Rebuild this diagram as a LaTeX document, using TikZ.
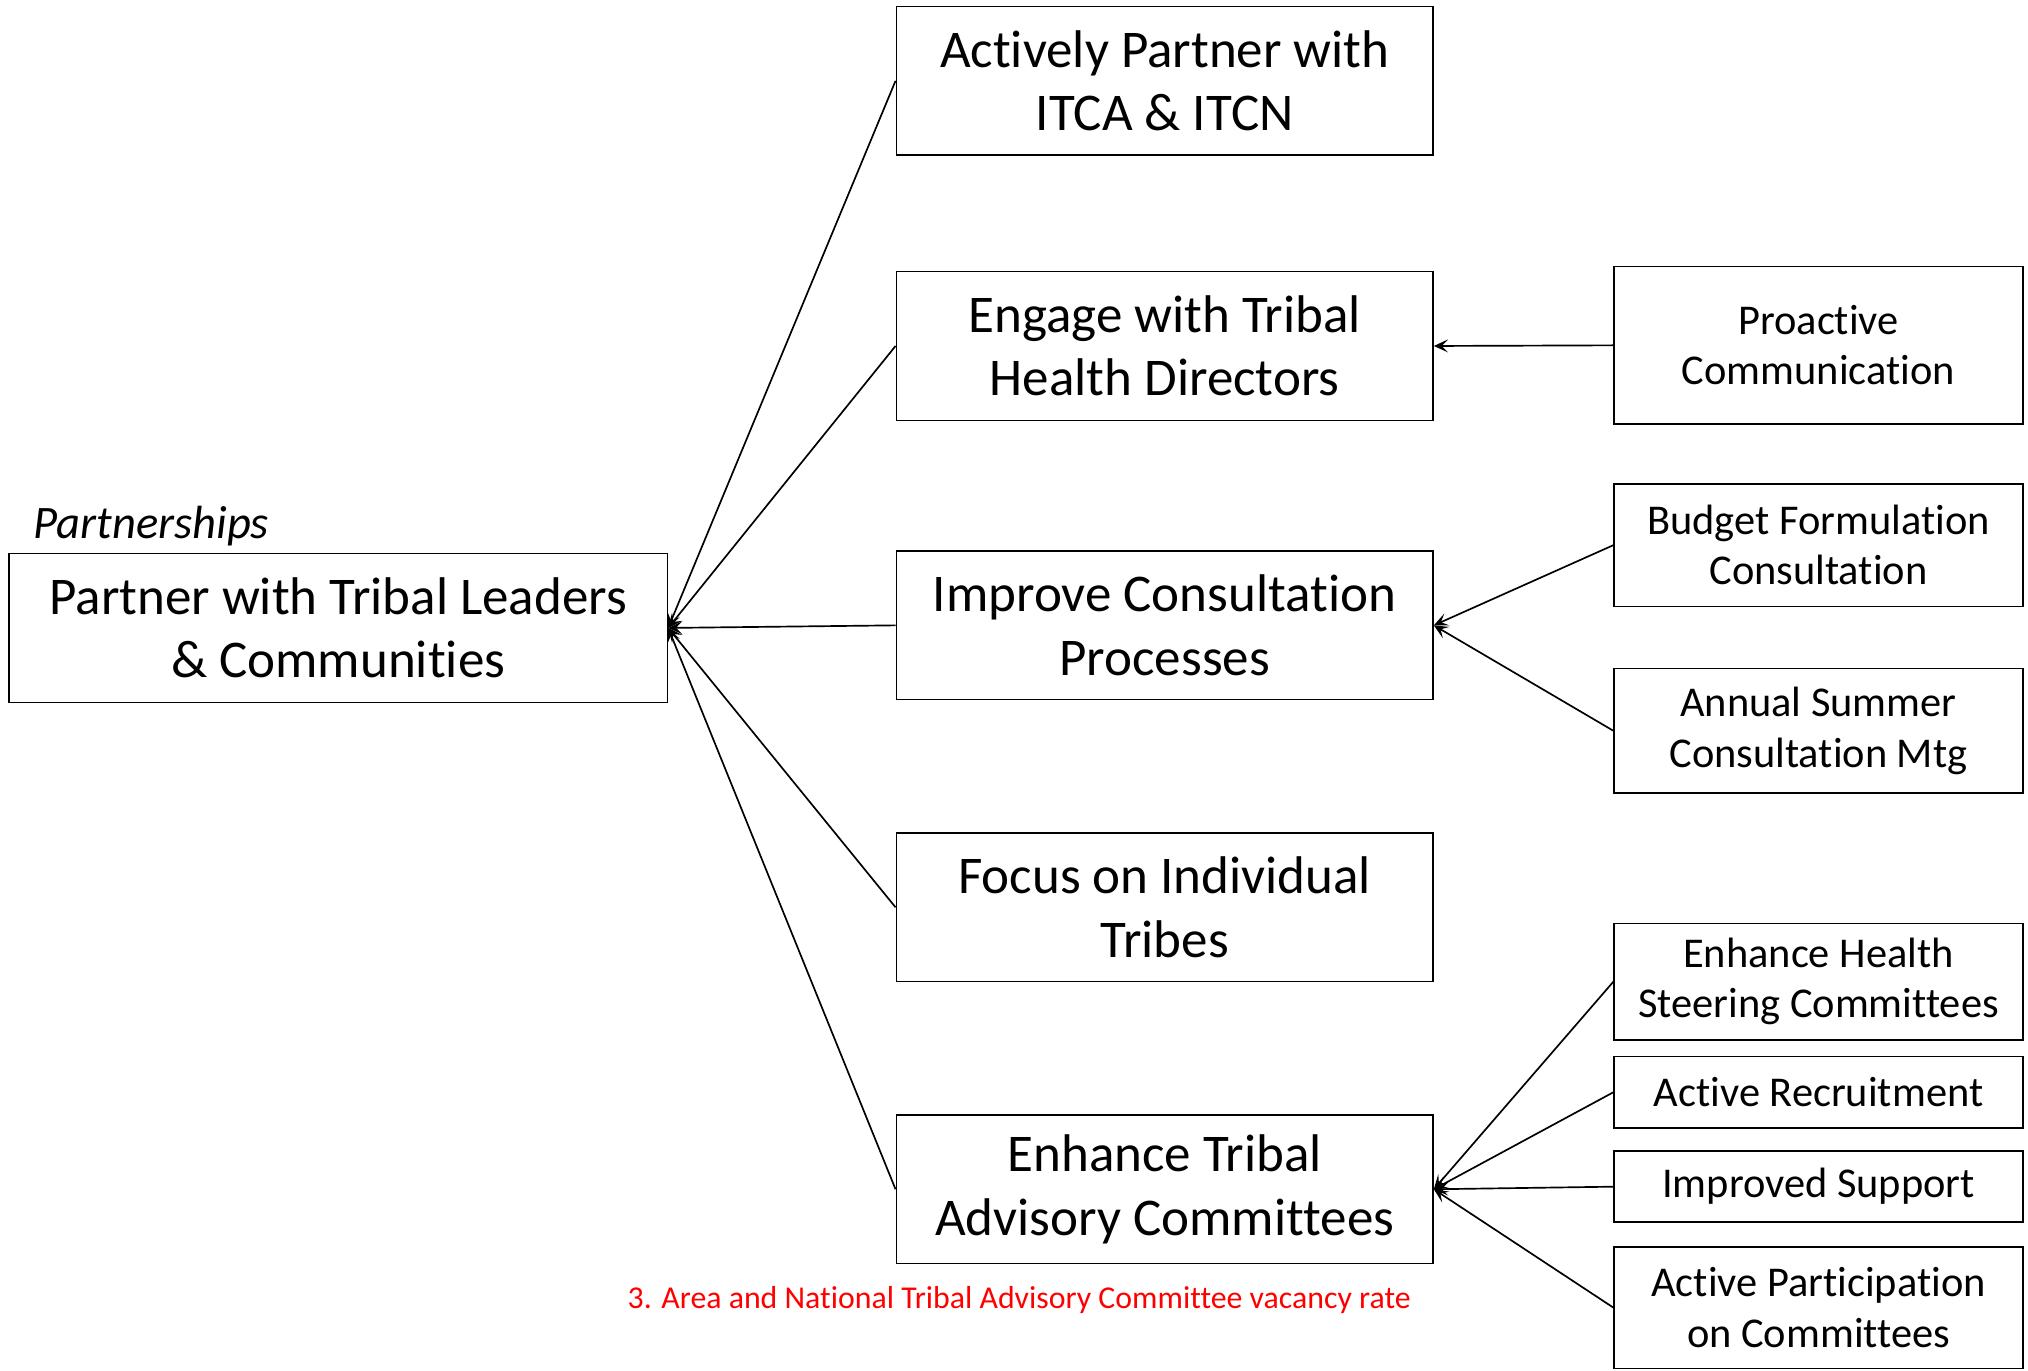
\documentclass[tikz,border=0pt]{standalone}
\usepackage{fontspec}
\setmainfont{Carlito}[Ligatures=NoCommon]
\usetikzlibrary{arrows.meta}
\begin{document}
\begin{tikzpicture}
		[x=1pt, y=-1pt, line width=1.3pt,
		box/.style={draw, line width=1.2pt, align=center, inner sep=0pt},
		goalbox/.style={box, minimum width=509pt, minimum height=115pt, font=\fontsize{41}{49}\selectfont},
		aimbox/.style={box, minimum width=415pt, minimum height=115pt, font=\fontsize{41}{49}\selectfont},
		stepbox/.style={box, minimum width=316pt, font=\fontsize{32.8}{39}\selectfont},
		>={Stealth[length=11pt, width=10pt, inset=5pt]}]
		\useasboundingbox (0,0) rectangle (1568,1060);
		\node[goalbox] (goal) at (261.5,485.5) {Partner with Tribal Leaders\\\& Communities};
		\node[anchor=base west, font=\fontsize{36}{40}\selectfont\itshape] (theme) at (22,416) {Partnerships};
		
		\node[aimbox] (itca) at (900.5,62.5) {Actively Partner with\\ITCA \& ITCN};
		\node[aimbox] (thd) at (900.5,267.5) {Engage with Tribal\\Health Directors};
		\node[aimbox] (consult) at (900.5,483.5) {Improve Consultation\\Processes};
		\node[aimbox] (tribes) at (900.5,701.5) {Focus on Individual\\Tribes};
		\node[aimbox] (tac) at (900.5,919.5) {Enhance Tribal\\Advisory Committees};
		\node[anchor=base, text=red, font=\fontsize{24.6}{28}\selectfont] (measure) at (788,1012) {3. Area and National Tribal Advisory Committee vacancy rate};
		
		\node[stepbox, minimum height=122pt] (comm) at (1406,267) {Proactive\\Communication};
		\node[stepbox, minimum height=95pt] (budget) at (1406,421.5) {Budget Formulation\\Consultation};
		\node[stepbox, minimum height=96pt] (summer) at (1406,565) {Annual Summer\\Consultation Mtg};
		\node[stepbox, minimum height=90pt] (hsc) at (1406,759) {Enhance Health\\Steering Committees};
		\node[stepbox, minimum height=55pt] (recruit) at (1406,844.5) {Active Recruitment};
		\node[stepbox, minimum height=55pt] (support) at (1406,917.5) {Improved Support};
		\node[stepbox, minimum height=94pt] (particip) at (1406,1011) {Active Participation\\on Committees};
		
		\path[->] (itca.west) edge (goal.east);
		\path[->] (thd.west) edge (goal.east);
		\path[->] (consult.west) edge (goal.east);
		\path[->] (tribes.west) edge (goal.east);
		\path[->] (tac.west) edge (goal.east);
		\path[->] (comm.west) edge (thd.east);
		\path[->] (budget.west) edge (consult.east);
		\path[->] (summer.west) edge (consult.east);
		\path[->] (hsc.west) edge (tac.east);
		\path[->] (recruit.west) edge (tac.east);
		\path[->] (support.west) edge (tac.east);
		\path[->] (particip.west) edge (tac.east);
\end{tikzpicture}
\end{document}
